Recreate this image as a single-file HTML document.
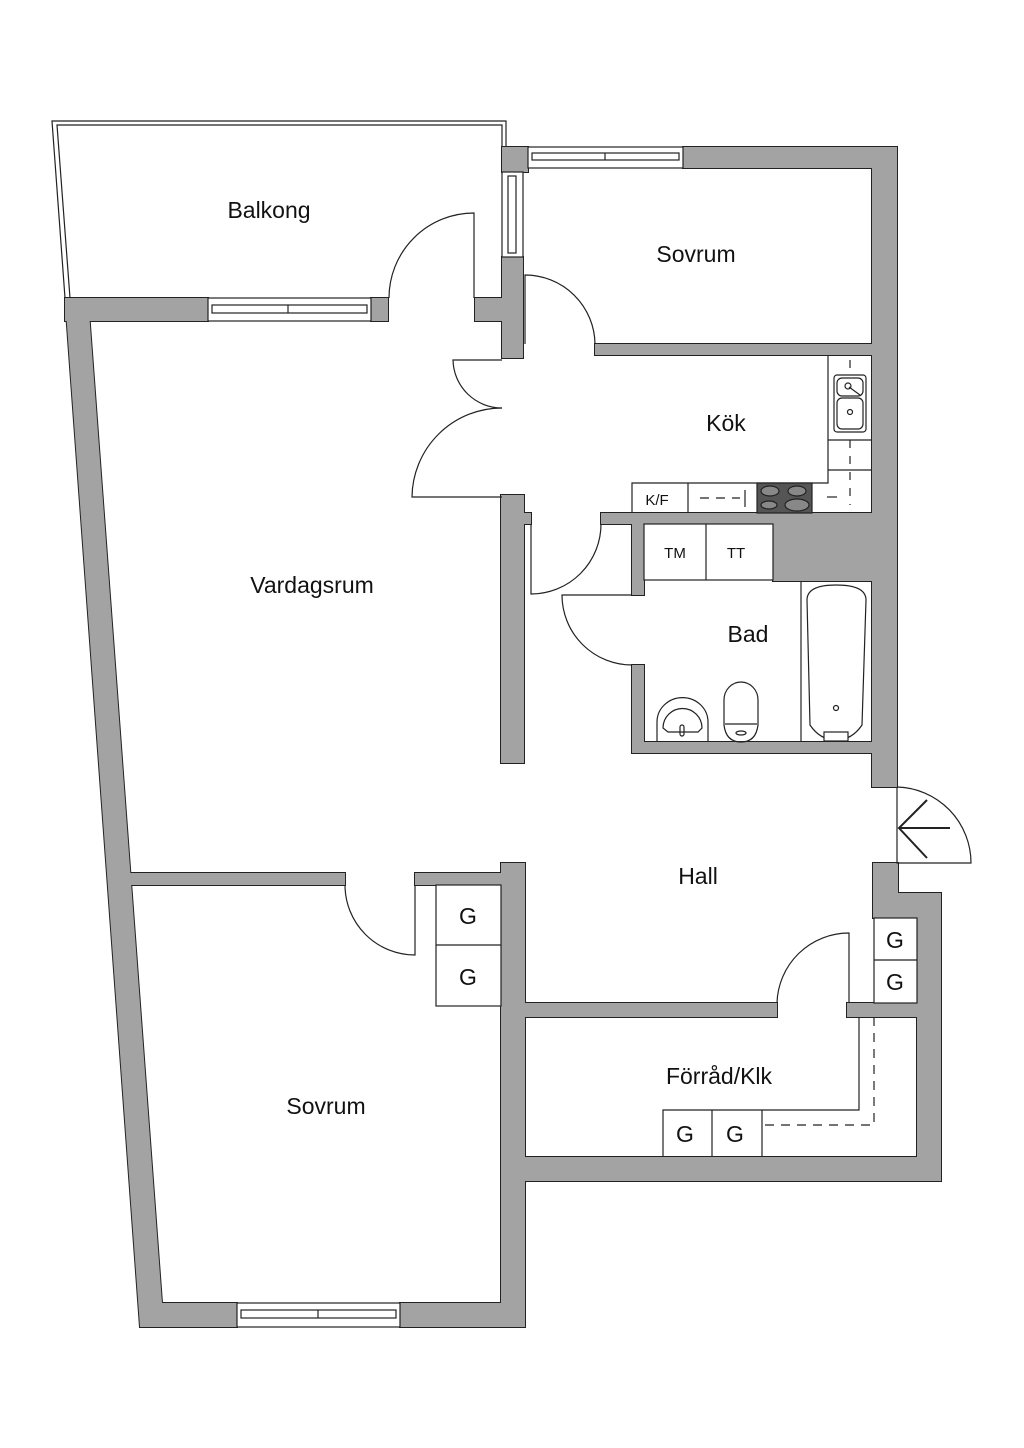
<!DOCTYPE html>
<html><head><meta charset="utf-8"><style>
html,body{margin:0;padding:0;background:#fff;}
svg{display:block}
text{font-family:"Liberation Sans",sans-serif;fill:#111}
</style></head><body>
<svg width="1024" height="1448" viewBox="0 0 1024 1448" xmlns="http://www.w3.org/2000/svg">
<defs>
<g id="walls">
<polygon points="65,298 88,298 162,1303 162,1327 140,1327"/>
<rect x="65" y="298" width="143" height="23"/>
<rect x="371" y="298" width="17" height="23"/>
<rect x="475" y="298" width="48" height="23"/>
<rect x="502" y="147" width="26" height="25"/>
<rect x="502" y="257" width="21" height="101"/>
<rect x="683" y="147" width="214" height="21"/>
<rect x="872" y="147" width="25" height="640"/>
<rect x="595" y="344" width="278" height="11"/>
<rect x="501" y="495" width="23" height="268"/>
<rect x="523" y="513" width="8" height="11"/>
<rect x="601" y="513" width="272" height="11"/>
<rect x="773" y="513" width="100" height="68"/>
<rect x="632" y="513" width="12" height="82"/>
<rect x="632" y="665" width="12" height="88"/>
<rect x="632" y="742" width="241" height="11"/>
<rect x="873" y="742" width="24" height="45"/>
<rect x="873" y="863" width="25" height="32"/>
<polygon points="873,893 941,893 941,1181 524,1181 524,1157 917,1157 917,918 873,918"/>
<rect x="847" y="1003" width="70" height="14"/>
<rect x="524" y="1003" width="253" height="14"/>
<rect x="501" y="863" width="24" height="464"/>
<polygon points="130,873 345,873 345,885 131,885"/>
<rect x="415" y="873" width="87" height="12"/>
<rect x="150" y="1303" width="87" height="24"/>
<rect x="400" y="1303" width="125" height="24"/>
</g>
</defs>
<g fill="#a3a3a3" stroke="#222" stroke-width="2"><use href="#walls"/></g>
<g fill="#a3a3a3" stroke="none"><use href="#walls"/></g>

<g fill="none" stroke="#222" stroke-width="1.2">
<polyline points="65,298 52,121 506,121 506,147"/>
<polyline points="70,298 57,125 502,125 502,147"/>
<rect x="208" y="298" width="163" height="23" fill="#fff"/>
<rect x="212" y="305" width="155" height="8"/><line x1="288" y1="305" x2="288" y2="313"/>
<rect x="528" y="147" width="155" height="21" fill="#fff"/>
<rect x="532" y="153" width="147" height="7"/><line x1="605" y1="153" x2="605" y2="160"/>
<rect x="502" y="172" width="21" height="85" fill="#fff"/>
<rect x="508" y="176" width="8" height="77"/>
<rect x="237" y="1303" width="163" height="24" fill="#fff"/>
<rect x="241" y="1310" width="155" height="8"/><line x1="318" y1="1310" x2="318" y2="1318"/>
<path d="M474,298 L474,213 A85,85 0 0 0 389,298"/>
<path d="M525,344 L525,275 A70,70 0 0 1 595,344"/>
<path d="M502,360 L453,360 A49,49 0 0 0 502,408"/>
<path d="M502,497 L412,497 A90,90 0 0 1 502,408"/>
<path d="M531,524 L531,594 A70,70 0 0 0 601,524"/>
<path d="M632,595 L562,595 A70,70 0 0 0 632,665"/>
<path d="M897,787 L897,863 L971,863 A76,76 0 0 0 897,787"/>
<path d="M415,885 L415,955 A70,70 0 0 1 345,885"/>
<path d="M849,1003 L849,933 A72,72 0 0 0 777,1003"/>
<g stroke-width="2"><line x1="899" y1="828" x2="950" y2="828"/><polyline points="927,800 899,828 927,858"/></g>
<polyline points="828,355 828,483 632,483 632,513"/>
<line x1="828" y1="440" x2="872" y2="440"/>
<line x1="828" y1="470" x2="872" y2="470"/>
<line x1="688" y1="483" x2="688" y2="513"/>
<line x1="745" y1="490" x2="745" y2="507"/>
<line x1="700" y1="498" x2="740" y2="498" stroke-dasharray="9,7"/>
<line x1="827" y1="497" x2="837" y2="497"/>
<line x1="850" y1="360" x2="850" y2="505" stroke-dasharray="8,8"/>
<rect x="834" y="375" width="32" height="57" rx="3" fill="#fff"/>
<rect x="837" y="378" width="26" height="18" rx="5"/>
<rect x="837" y="398" width="26" height="31" rx="5"/>
<circle cx="848" cy="386" r="3"/><line x1="849" y1="387" x2="860" y2="395"/>
<circle cx="850" cy="412" r="2.5"/>
<rect x="757" y="483" width="55" height="30" fill="#555"/>
<g fill="#888" stroke="#222"><ellipse cx="770" cy="491" rx="9" ry="5"/><ellipse cx="797" cy="491" rx="9" ry="5"/><ellipse cx="769" cy="505" rx="8" ry="4"/><ellipse cx="797" cy="505" rx="12" ry="6"/></g>
<rect x="644" y="524" width="129" height="56" fill="#fff"/>
<line x1="706" y1="524" x2="706" y2="580"/>
<line x1="801" y1="581" x2="801" y2="742"/>
<path d="M807,600 Q807,585 836,585 Q866,585 866,600 L862,725 Q852,740 836,740 Q820,740 810,725 Z"/>
<circle cx="836" cy="708" r="2.5"/>
<rect x="824" y="732" width="24" height="9" fill="#fff"/>
<path d="M657,742 L657,722 A23,22 0 0 1 708,722 L708,742"/>
<path d="M663,728 A18,18 0 0 1 702,728 L698,732 L668,732 Z"/>
<rect x="680" y="725" width="4" height="11" rx="2"/>
<path d="M724,725 L724,700 A17,18 0 0 1 758,700 L758,725 Q756,742 741,742 Q726,742 724,725 Z"/>
<line x1="725" y1="724" x2="757" y2="724"/>
<ellipse cx="741" cy="733" rx="5" ry="2"/>
<rect x="436" y="885" width="65" height="121" fill="#fff"/><line x1="436" y1="945" x2="501" y2="945"/>
<rect x="874" y="918" width="43" height="85" fill="#fff"/><line x1="874" y1="960" x2="917" y2="960"/>
<polyline points="859,1017 859,1110 663,1110 663,1157"/>
<line x1="712" y1="1110" x2="712" y2="1157"/>
<line x1="762" y1="1110" x2="762" y2="1157"/>
<polyline points="874,1017 874,1125 762,1125" stroke-dasharray="9,7"/>
</g>

<g font-size="23" text-anchor="middle">
<text x="269" y="218">Balkong</text>
<text x="696" y="262">Sovrum</text>
<text x="726" y="431">Kök</text>
<text x="312" y="593">Vardagsrum</text>
<text x="748" y="642">Bad</text>
<text x="698" y="884">Hall</text>
<text x="326" y="1114">Sovrum</text>
<text x="719" y="1084">Förråd/Klk</text>
<text x="468" y="924">G</text>
<text x="468" y="985">G</text>
<text x="895" y="948">G</text>
<text x="895" y="990">G</text>
<text x="685" y="1142">G</text>
<text x="735" y="1142">G</text>
</g>
<g font-size="15" text-anchor="middle">
<text x="657" y="505">K/F</text>
<text x="675" y="558">TM</text>
<text x="736" y="558">TT</text>
</g>
</svg>
</body></html>
